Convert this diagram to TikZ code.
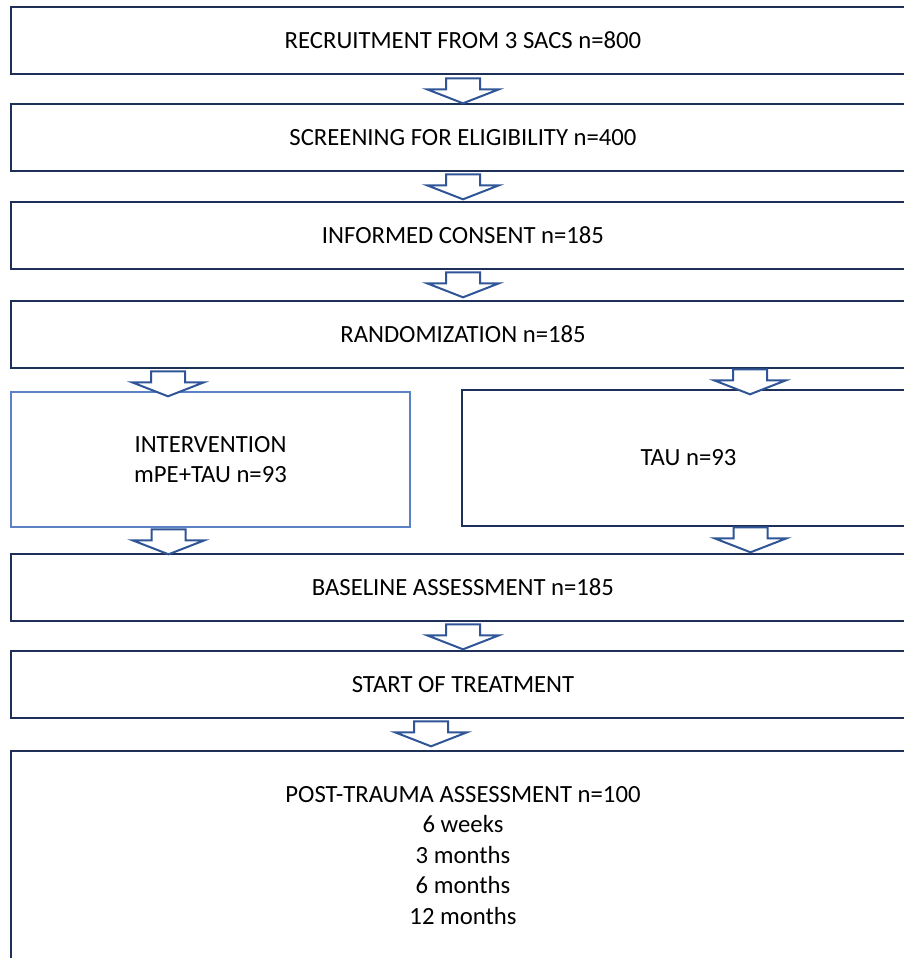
\documentclass[tikz,border=0pt]{standalone}
\usepackage{fontspec}
\setmainfont{Carlito}
\usepackage{tikz}
\usetikzlibrary{arrows.meta, positioning, calc}

\definecolor{boxnavy}{RGB}{31,48,88}
\definecolor{boxlight}{RGB}{91,130,196}
\definecolor{arrowblue}{RGB}{47,85,151}

\tikzset{
  stage/.style = {draw=boxnavy, line width=2.6pt, rectangle, inner sep=0pt,
    align=center, minimum width=904pt, minimum height=67pt},
  pics/down/.style = {code={
    \draw[line width=2pt, draw=arrowblue, fill=white, line join=miter]
      (-17,0) -- (17,0) -- (17,11) -- (36,11) -- (0,25) -- (-36,11) -- (-17,11) -- cycle;
  }}
}

\begin{document}
\begin{tikzpicture}[
    x=1pt, y=-1pt,
    every node/.append style = {font=\fontsize{24.7}{30.5}\selectfont}
  ]
  \useasboundingbox (0,0) rectangle (903,958);

  \node[stage] (recruit) at (463,40.5) {RECRUITMENT FROM 3 SACS n=800};
  \node[stage] (screen)  at (463,137.5) {SCREENING FOR ELIGIBILITY n=400};
  \node[stage] (consent) at (463,235.5) {INFORMED CONSENT n=185};
  \node[stage] (random)  at (463,334.5) {RANDOMIZATION n=185};

  % the two arms
  \node[stage, draw=boxlight, minimum width=399pt, minimum height=135pt]
    (interv) at (210.5,459.5) {INTERVENTION\\mPE+TAU n=93};
  \node[stage, minimum width=453pt, minimum height=136pt]
    (tau) at (688.5,458) {TAU n=93};

  \node[stage] (baseline) at (463,587.5) {BASELINE ASSESSMENT n=185};
  \node[stage] (start)    at (463,684.5) {START OF TREATMENT};
  \node[stage, minimum height=209pt] (post) at (463,855.5)
    {POST-TRAUMA ASSESSMENT n=100\\6 weeks\\3 months\\6 months\\12 months};

  % block arrows
  \pic at ($(recruit.south)+(0,3)$) {down};
  \pic at ($(screen.south)+(0,2)$) {down};
  \pic at ($(consent.south)+(0,2)$) {down};
  \pic at ($(random.south)+(-295,2)$) {down};
  \pic at ($(random.south)+(287,0)$) {down};
  \pic at ($(interv.south)+(-42,1)$) {down};
  \pic at ($(tau.south)+(62,0)$) {down};
  \pic at ($(baseline.south)+(0,2)$) {down};
  \pic at ($(start.south)+(-32,2)$) {down};
\end{tikzpicture}
\end{document}
